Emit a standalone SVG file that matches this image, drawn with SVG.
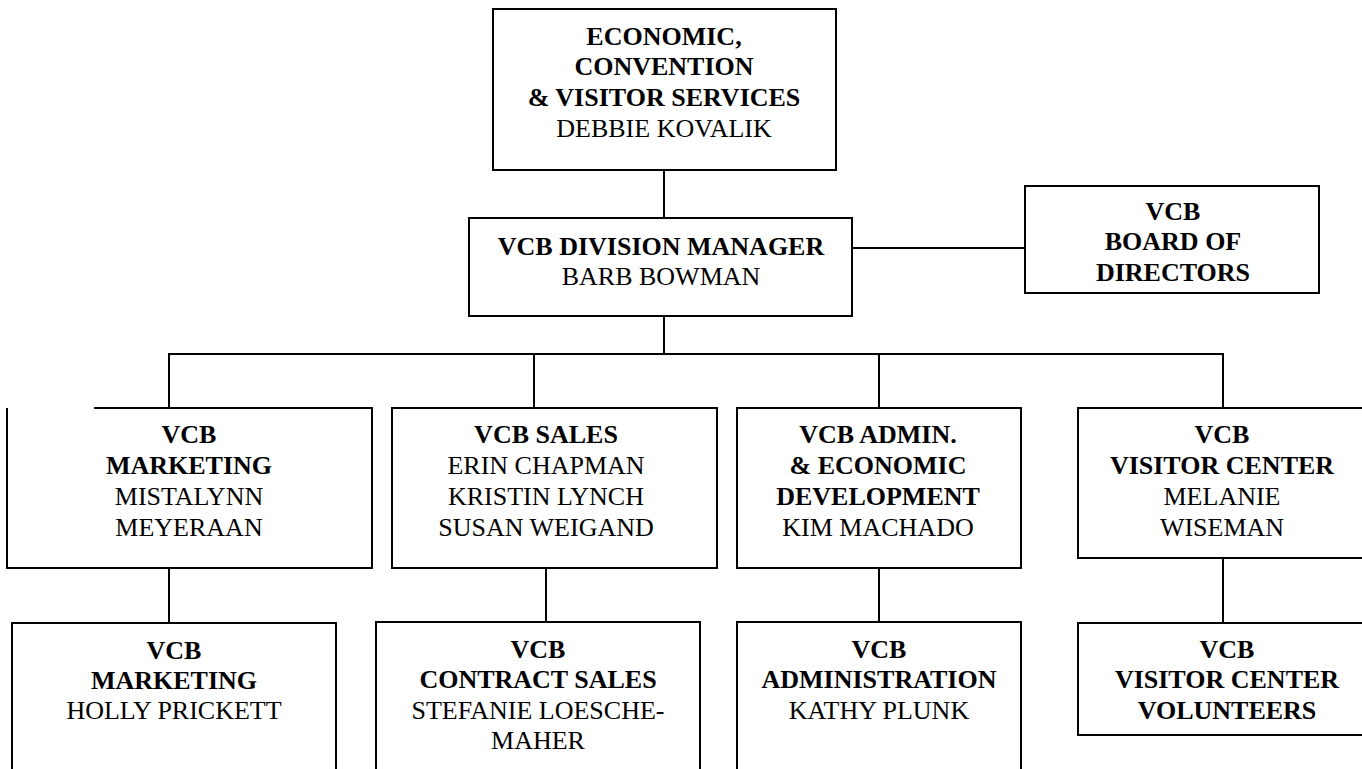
<svg xmlns="http://www.w3.org/2000/svg" width="1362" height="769" viewBox="0 0 1362 769">
<style>
.box{fill:#fff;stroke:#000;stroke-width:2}
.ln{fill:none;stroke:#000;stroke-width:2}
text{font-family:"Liberation Serif","Times New Roman",serif;font-size:26px;fill:#000;text-anchor:middle}
.b{font-weight:bold}
</style>
<rect width="1362" height="769" fill="#fff"/>
<g id="connectors">
<path class="ln" d="M664,170 V218"/>
<path class="ln" d="M852,248 H1025"/>
<path class="ln" d="M664,316 V354"/>
<path class="ln" d="M169,408 V354 H1223 V408"/>
<path class="ln" d="M534,354 V408"/>
<path class="ln" d="M879,354 V408"/>
<path class="ln" d="M169,568 V623"/>
<path class="ln" d="M546,568 V622"/>
<path class="ln" d="M879,568 V622"/>
<path class="ln" d="M1223,558 V623"/>
</g>
<g id="n-ecvs">
<rect class="box" x="493" y="9" width="343" height="161"/>
<text x="664" y="45" class="b">ECONOMIC,</text>
<text x="664" y="75" class="b">CONVENTION</text>
<text x="664" y="106" class="b">&amp; VISITOR SERVICES</text>
<text x="664" y="137">DEBBIE KOVALIK</text>
</g>
<g id="n-dm">
<rect class="box" x="469" y="218" width="383" height="98"/>
<text x="661" y="255" class="b">VCB DIVISION MANAGER</text>
<text x="661" y="285">BARB BOWMAN</text>
</g>
<g id="n-board">
<rect class="box" x="1025" y="186" width="294" height="107"/>
<text x="1173" y="220" class="b">VCB</text>
<text x="1173" y="250" class="b">BOARD OF</text>
<text x="1173" y="281" class="b">DIRECTORS</text>
</g>
<g id="n-marketing">
<path class="box" d="M94,408 H372 V568 H7 V408"/>
<text x="189" y="443" class="b">VCB</text>
<text x="189" y="474" class="b">MARKETING</text>
<text x="189" y="505">MISTALYNN</text>
<text x="189" y="536">MEYERAAN</text>
</g>
<g id="n-sales">
<rect class="box" x="392" y="408" width="325" height="160"/>
<text x="546" y="443" class="b">VCB SALES</text>
<text x="546" y="474">ERIN CHAPMAN</text>
<text x="546" y="505">KRISTIN LYNCH</text>
<text x="546" y="536">SUSAN WEIGAND</text>
</g>
<g id="n-admin">
<rect class="box" x="737" y="408" width="284" height="160"/>
<text x="878" y="443" class="b">VCB ADMIN.</text>
<text x="878" y="474" class="b">&amp; ECONOMIC</text>
<text x="878" y="505" class="b">DEVELOPMENT</text>
<text x="878" y="536">KIM MACHADO</text>
</g>
<g id="n-visitor">
<rect class="box" x="1078" y="408" width="292" height="150"/>
<text x="1222" y="443" class="b">VCB</text>
<text x="1222" y="474" class="b">VISITOR CENTER</text>
<text x="1222" y="505">MELANIE</text>
<text x="1222" y="536">WISEMAN</text>
</g>
<g id="n-marketing2">
<rect class="box" x="12" y="623" width="324" height="160"/>
<text x="174" y="659" class="b">VCB</text>
<text x="174" y="689" class="b">MARKETING</text>
<text x="174" y="719">HOLLY PRICKETT</text>
</g>
<g id="n-contract">
<rect class="box" x="376" y="622" width="324" height="160"/>
<text x="538" y="658" class="b">VCB</text>
<text x="538" y="688" class="b">CONTRACT SALES</text>
<text x="538" y="719">STEFANIE LOESCHE-</text>
<text x="538" y="749">MAHER</text>
</g>
<g id="n-administration">
<rect class="box" x="737" y="622" width="284" height="160"/>
<text x="879" y="658" class="b">VCB</text>
<text x="879" y="688" class="b">ADMINISTRATION</text>
<text x="879" y="719">KATHY PLUNK</text>
</g>
<g id="n-volunteers">
<rect class="box" x="1078" y="623" width="292" height="112"/>
<text x="1227" y="658" class="b">VCB</text>
<text x="1227" y="688" class="b">VISITOR CENTER</text>
<text x="1227" y="719" class="b">VOLUNTEERS</text>
</g>
</svg>
